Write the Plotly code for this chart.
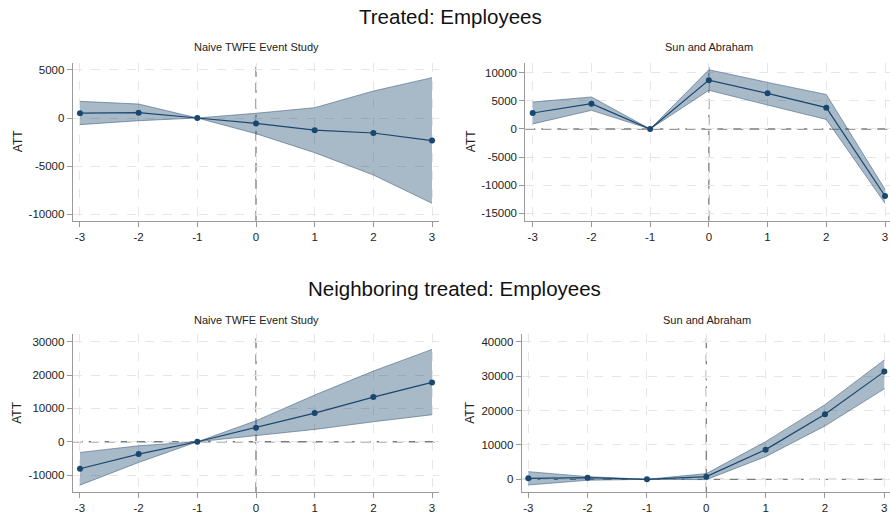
import plotly.graph_objects as go

# Event time relative to treatment
event_time = [-3, -2, -1, 0, 1, 2, 3]
x_tick_text = ["-3", "-2", "-1", "0", "1", "2", "3"]

# Treated: Employees -- naive TWFE event study
twfe_treated_att = [500, 550, 0, -560, -1260, -1560, -2350]
twfe_treated_hi = [1730, 1450, 0, 490, 1070, 2800, 4190]
twfe_treated_lo = [-690, -280, 0, -1630, -3600, -5920, -8860]

# Treated: Employees -- Sun and Abraham
sa_treated_att = [2850, 4500, 0, 8700, 6350, 3800, -11930]
sa_treated_hi = [4800, 5700, 0, 10550, 8300, 6150, -10740]
sa_treated_lo = [900, 3320, 0, 6900, 4270, 1700, -13230]

# Neighboring treated: Employees -- naive TWFE event study
twfe_neigh_att = [-8100, -3700, 0, 4200, 8600, 13400, 17800]
twfe_neigh_hi = [-3200, -1200, 0, 6300, 14000, 21200, 27700]
twfe_neigh_lo = [-13000, -6200, 0, 1900, 3700, 6000, 8100]

# Neighboring treated: Employees -- Sun and Abraham
sa_neigh_att = [290, 480, 0, 770, 8620, 18900, 31300]
sa_neigh_hi = [2230, 770, 0, 1650, 10950, 21700, 34700]
sa_neigh_lo = [-1650, -290, 0, -100, 6590, 15500, 26300]

# y-axis ticks for each panel
y_ticks_1 = [5000, 0, -5000, -10000]
y_ticks_2 = [10000, 5000, 0, -5000, -10000, -15000]
y_ticks_3 = [30000, 20000, 10000, 0, -10000]
y_ticks_4 = [40000, 30000, 20000, 10000, 0]

main_titles = ["Treated: Employees", "Neighboring treated: Employees"]
sub_titles = ["Naive TWFE Event Study", "Sun and Abraham"]
y_label = "ATT"

W, H = 890, 518
FONT = "Liberation Sans, Arial, sans-serif"
NAVY = "#1a476f"
BAND = "rgba(26,71,111,0.38)"
BAND_EDGE = "rgba(70,100,130,0.75)"
GRID = "#e6e6e6"
REFLINE = "#7c7c7c"


def px_x(p):
    return p / W


def px_y(p):
    return 1 - p / H


panels = [
    dict(att=twfe_treated_att, hi=twfe_treated_hi, lo=twfe_treated_lo, ticks=y_ticks_1,
         xdom=[px_x(72.7), px_x(439.3)], ydom=[px_y(220.7), px_y(62.7)],
         xr=[-3.124, 3.124], yr=[-10668, 5744], hline=False),
    dict(att=sa_treated_att, hi=sa_treated_hi, lo=sa_treated_lo, ticks=y_ticks_2,
         xdom=[px_x(525.3), 1.0], ydom=[px_y(220.7), px_y(62.7)],
         xr=[-3.126, 3.085], yr=[-16330, 11805], hline=True),
    dict(att=twfe_neigh_att, hi=twfe_neigh_hi, lo=twfe_neigh_lo, ticks=y_ticks_3,
         xdom=[px_x(72.7), px_x(439.3)], ydom=[px_y(492.3), px_y(334.3)],
         xr=[-3.124, 3.124], yr=[-15150, 32220], hline=True),
    dict(att=sa_neigh_att, hi=sa_neigh_hi, lo=sa_neigh_lo, ticks=y_ticks_4,
         xdom=[px_x(521.7), 1.0], ydom=[px_y(492.3), px_y(334.3)],
         xr=[-3.111, 3.096], yr=[-3780, 42150], hline=True),
]

fig = go.Figure()
shapes = []
annotations = []
layout_axes = {}

for i, p in enumerate(panels, start=1):
    xa = "x" if i == 1 else f"x{i}"
    ya = "y" if i == 1 else f"y{i}"

    # confidence band
    fig.add_trace(go.Scatter(x=event_time, y=p["hi"], xaxis=xa, yaxis=ya, mode="lines",
                             line=dict(color=BAND_EDGE, width=0.8), showlegend=False,
                             hoverinfo="skip"))
    fig.add_trace(go.Scatter(x=event_time, y=p["lo"], xaxis=xa, yaxis=ya, mode="lines",
                             line=dict(color=BAND_EDGE, width=0.8), fill="tonexty",
                             fillcolor=BAND, showlegend=False, hoverinfo="skip"))
    # point estimates
    fig.add_trace(go.Scatter(x=event_time, y=p["att"], xaxis=xa, yaxis=ya, mode="lines+markers",
                             line=dict(color=NAVY, width=1.2),
                             marker=dict(color=NAVY, size=6), showlegend=False))

    axis_common = dict(showline=True, linecolor="#9a9a9a", linewidth=1,
                       ticks="outside", ticklen=5, tickcolor="#9a9a9a", tickwidth=1,
                       showgrid=True, gridcolor=GRID, griddash="dash", gridwidth=1,
                       zeroline=False, mirror=False,
                       tickfont=dict(family=FONT, size=11.5, color="#222"))
    key = "" if i == 1 else str(i)
    layout_axes[f"xaxis{key}"] = dict(axis_common, domain=p["xdom"], range=p["xr"],
                                      anchor=ya, tickmode="array", tickvals=event_time,
                                      ticktext=x_tick_text)
    layout_axes[f"yaxis{key}"] = dict(axis_common, domain=p["ydom"], range=p["yr"],
                                      anchor=xa, tickmode="array", tickvals=p["ticks"],
                                      ticktext=[str(v) for v in p["ticks"]])

    # reference lines at event time 0 and ATT 0
    shapes.append(dict(type="line", xref=xa, yref=f"{ya} domain", x0=0, x1=0, y0=0, y1=1,
                       line=dict(color=REFLINE, width=1.3, dash="10px,6px"), layer="below"))
    if p["hline"]:
        shapes.append(dict(type="line", xref=f"{xa} domain", yref=ya, x0=0, x1=1, y0=0, y1=0,
                           line=dict(color=REFLINE, width=1.3, dash="10px,6px"), layer="below"))

    # panel subtitle
    sub = sub_titles[(i - 1) % 2]
    xc = (px_x(72.7) + px_x(439.3)) / 2 if i % 2 == 1 else (p["xdom"][0] + px_x(890 + 3)) / 2
    yc = px_y(47.5) if i <= 2 else px_y(319.5)
    annotations.append(dict(text=sub, x=xc, y=yc, xref="paper", yref="paper",
                            xanchor="center", yanchor="middle", showarrow=False,
                            font=dict(family=FONT, size=11, color="#222")))
    # y-axis label
    xl = px_x(17.5) if i % 2 == 1 else px_x(470.5)
    annotations.append(dict(text=y_label, x=xl, y=sum(p["ydom"]) / 2, xref="paper",
                            yref="paper", xanchor="center", yanchor="middle",
                            textangle=-90, showarrow=False,
                            font=dict(family=FONT, size=12, color="#222")))

# row titles
annotations.append(dict(text=main_titles[0], x=px_x(450), y=px_y(16), xref="paper",
                        yref="paper", xanchor="center", yanchor="middle", showarrow=False,
                        font=dict(family=FONT, size=20.5, color="#111")))
annotations.append(dict(text=main_titles[1], x=px_x(454), y=px_y(288), xref="paper",
                        yref="paper", xanchor="center", yanchor="middle", showarrow=False,
                        font=dict(family=FONT, size=20.5, color="#111")))

fig.update_layout(width=W, height=H, autosize=False,
                  margin=dict(l=0, r=0, t=0, b=0),
                  paper_bgcolor="white", plot_bgcolor="white",
                  shapes=shapes, annotations=annotations,
                  font=dict(family=FONT), **layout_axes)

fig.write_html("out.html")
